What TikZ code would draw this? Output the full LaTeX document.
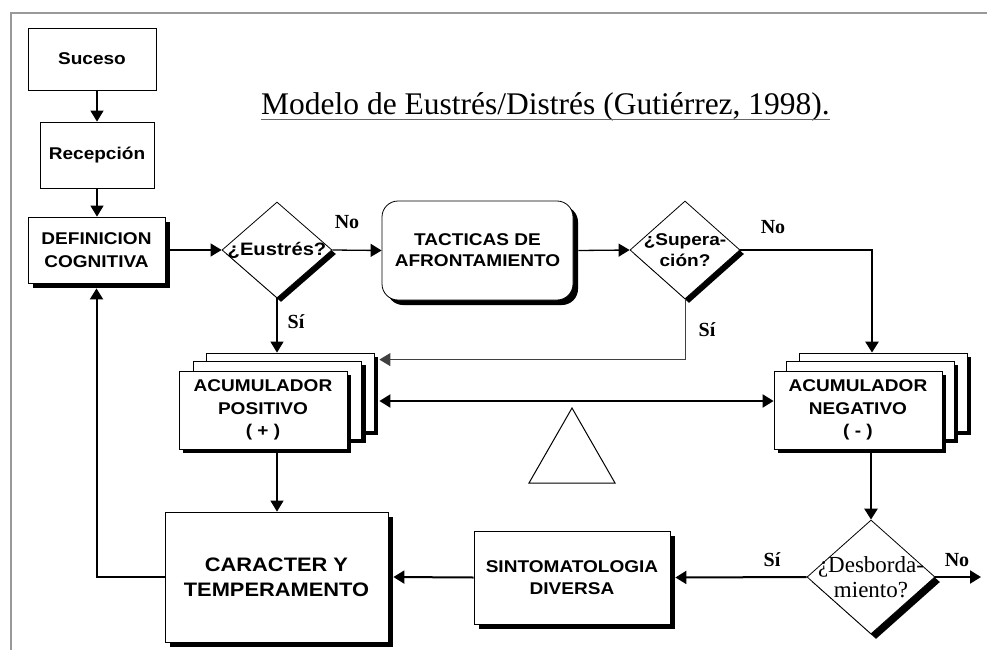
\documentclass[tikz,border=0pt]{standalone}
\usepackage{fontspec}
\setmainfont{Liberation Serif}
\newfontfamily\bx[FakeStretch=1.12]{Liberation Sans}
\usetikzlibrary{shapes.geometric,shadows,arrows.meta}
\begin{document}
\begin{tikzpicture}[x=1pt,y=-1pt,
  sh/.style={drop shadow={shadow xshift=#1,shadow yshift=-#1,fill=black,opacity=1}},
  sh/.default=5pt,
  box/.style={draw,fill=white,inner sep=0pt,align=center,line width=0.8pt,
    font=\bx\bfseries\fontsize{17}{22.5}\selectfont},
  dia/.style={diamond,draw,fill=white,inner sep=0pt,line width=0.8pt},
  dlab/.style={align=center,font=\bx\bfseries\fontsize{17}{21}\selectfont},
  lab/.style={font=\bfseries\fontsize{20}{22}\selectfont},
  arr/.style={-{Triangle[length=11pt,width=13pt]}},
  ln/.style={line width=1.3pt},
  med/.style={line width=2pt},
  thk/.style={line width=2.6pt},
  thn/.style={line width=1pt,black!75}]
\useasboundingbox (0,0) rectangle (987,650);
% frame
\draw[black!40,line width=2pt] (11,650) -- (11,13) -- (987,13);
% title
\node[inner sep=0pt,anchor=base,font=\fontsize{31.5}{33}\selectfont] (title) at (545.5,115)
  {Modelo de Eustrés/Distrés (Gutiérrez, 1998).};
\draw[black!60,line width=0.9pt] ([yshift=-4pt]title.base west) -- ([yshift=-4pt]title.base east);
% nodes
\node[box,minimum width=128pt,minimum height=62pt] (suc) at (92,59) {Suceso};
\node[box,minimum width=114pt,minimum height=66pt] (rec) at (97,155) {Recepción};
\node[box,sh,minimum width=137pt,minimum height=66pt] (def) at (96.5,250) {DEFINICION\\COGNITIVA};
\node[dia,sh=4pt,minimum width=110pt,minimum height=96pt,
  label={[dlab,font=\bx\bfseries\fontsize{18}{20}\selectfont]center:¿Eustrés?}] (eus) at (277,250) {};
\node[box,sh,rounded corners=16pt,minimum width=191pt,minimum height=99pt,
  font=\bx\bfseries\fontsize{17}{21}\selectfont] (tac) at (477.5,250.5)
  {TACTICAS DE\\AFRONTAMIENTO};
\node[dia,sh=4pt,minimum width=110pt,minimum height=98pt,
  label={[dlab]center:¿Supera-\\ción?}] (sup) at (685,250) {};
% acumulador positivo (stack)
\node[box,sh=4pt,minimum width=168pt,minimum height=78pt] (pb) at (290,392) {};
\node[box,sh=4pt,minimum width=168pt,minimum height=78pt] (pm) at (277.5,400) {};
\node[box,sh=4pt,minimum width=168pt,minimum height=78pt] (pf) at (263,410) {ACUMULADOR\\POSITIVO\\( + )};
% acumulador negativo (stack)
\node[box,sh=4pt,minimum width=168pt,minimum height=78pt] (nb) at (883,392) {};
\node[box,sh=4pt,minimum width=168pt,minimum height=78pt] (nm) at (870,400) {};
\node[box,sh=4pt,minimum width=168pt,minimum height=78pt] (nf) at (858,410) {ACUMULADOR\\NEGATIVO\\( - )};
% bottom row
\node[box,sh,minimum width=223pt,minimum height=130pt,font=\bx\bfseries\fontsize{19.5}{25}\selectfont]
  (car) at (276.5,577) {CARACTER Y\\TEMPERAMENTO};
\node[box,sh,minimum width=196pt,minimum height=93pt] (sint) at (572,577.5) {SINTOMATOLOGIA\\DIVERSA};
\node[dia,sh=5pt,minimum width=128pt,minimum height=114pt,
  label={[align=center,font=\fontsize{23}{25}\selectfont]center:¿Desborda-\\miento?}] (desb) at (871,577) {};
% balance triangle
\draw[line width=1pt] (572,408) -- (615,483) -- (529,483) -- cycle;
% helper coordinates
\coordinate (ydbl) at (0,401);
\coordinate (noend) at (981,577);
% connectors
\draw[ln,arr] (suc.south -| rec.north) -- (rec.north);
\draw[ln,arr] (rec.south) -- (rec.south |- def.north);
\draw[ln,arr] ([xshift=5pt]def.east) -- (eus.west);
\draw[ln,arr] (eus.east) -- (tac.west);
\draw[ln,arr] ([xshift=5pt]tac.east) -- (sup.west);
\draw[thk,arr] (sup.east) -| ([xshift=-11pt]nb.north);
\draw[thn,arr] (sup.south) |- ([shift={(5pt,-7pt)}]pb.north east);
\draw[ln,arr] (eus.south) -- (eus.south |- pb.north);
\draw[med,{Triangle[length=11pt,width=13pt]}-{Triangle[length=11pt,width=13pt]}]
  ([xshift=5pt]pb.east |- ydbl) -- (nf.west |- ydbl);
\draw[ln,arr] ([yshift=-4pt]pf.south -| eus.south) -- (eus.south |- car.north);
\draw[thk,arr] ([yshift=-4pt]nf.south -| desb.north) -- (desb.north);
\draw[med,arr] (desb.west) -- ([xshift=5pt]sint.east);
\draw[med,arr] (sint.west) -- ([xshift=5pt]car.east);
\draw[med,arr] (car.west) -| ([yshift=-5pt]def.south);
\draw[med,arr] (desb.east) -- (noend);
% labels
\node[lab] (no1) at (347,222) {No};
\node[lab] (si1) at (296,322) {Sí};
\node[lab] (no2) at (773,227) {No};
\node[lab] (si2) at (707,330) {Sí};
\node[lab] (si3) at (772,560) {Sí};
\node[lab] (no3) at (957,560) {No};
\end{tikzpicture}
\end{document}
